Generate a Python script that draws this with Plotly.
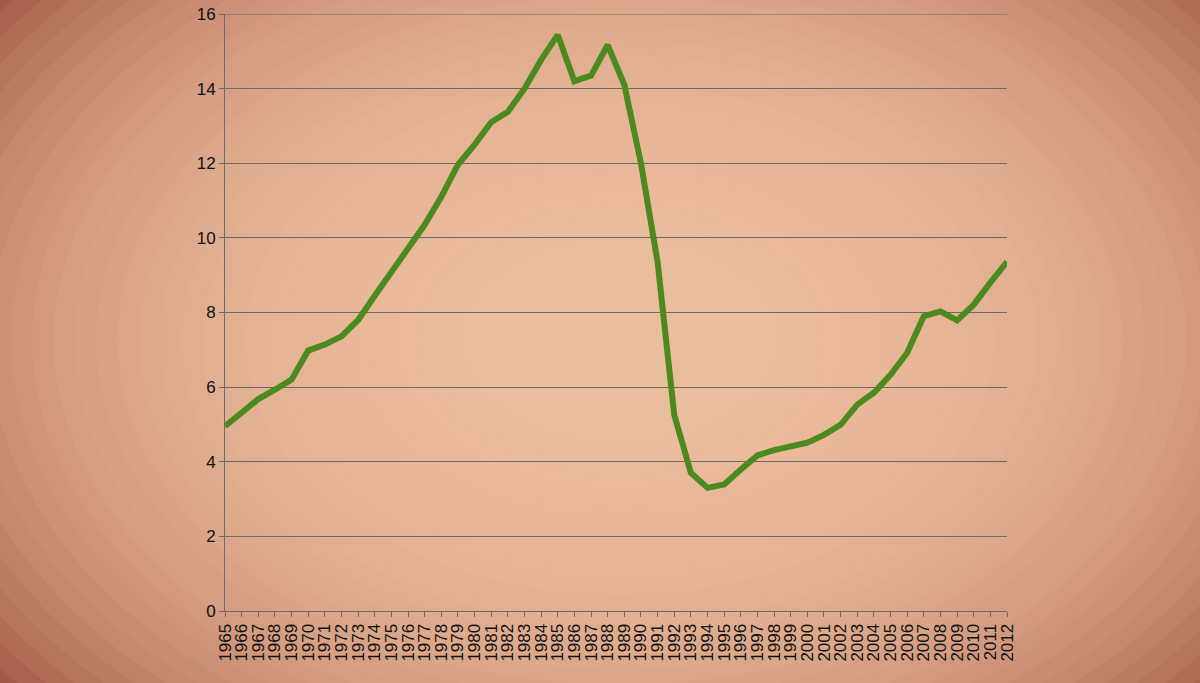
import plotly.graph_objects as go

years = list(range(1965, 2013))
values = [4.95, 5.32, 5.68, 5.93, 6.2, 6.98, 7.14, 7.36, 7.8, 8.45,
          9.07, 9.72, 10.35, 11.1, 11.96, 12.5, 13.1, 13.38, 14.0, 14.77,
          15.44, 14.2, 14.35, 15.17, 14.1, 12.0, 9.35, 5.26, 3.7, 3.3,
          3.39, 3.79, 4.17, 4.31, 4.41, 4.51, 4.72, 4.99, 5.53, 5.85,
          6.33, 6.92, 7.9, 8.03, 7.79, 8.21, 8.8, 9.36]
y_ticks = [0, 2, 4, 6, 8, 10, 12, 14, 16]

W, H = 1200, 683
L, R, T, B = 225, 1007, 14, 611

def px(x):
    return (x - L) / (R - L)

def py(y):
    return (B - y) / (B - T)

fig = go.Figure()
fig.add_trace(go.Scatter(
    x=years, y=values, mode="lines",
    line=dict(color="#4c8a1d", width=6),
    cliponaxis=False, hoverinfo="skip", showlegend=False))

# vignette background built from layered ellipses
shapes = []
cx, cy = 620, 340
n = 30
for i in range(n):
    f = 1 - i / n
    rx = 140 + 640 * f
    ry = 90 + 450 * f
    shapes.append(dict(type="circle", xref="paper", yref="paper", layer="below",
                       x0=px(cx - rx), x1=px(cx + rx), y0=py(cy + ry), y1=py(cy - ry),
                       fillcolor="#f9cba8", opacity=0.09, line=dict(width=0)))
# top gridline at 16
shapes.append(dict(type="line", xref="paper", yref="y", x0=0, x1=1, y0=16, y1=16,
                   layer="below", line=dict(color="#6f6864", width=1)))

fig.update_layout(
    width=W, height=H,
    margin=dict(l=L, r=W - R, t=T, b=H - B, autoexpand=False),
    paper_bgcolor="#a45947",
    plot_bgcolor="rgba(0,0,0,0)",
    shapes=shapes,
    font=dict(family="Liberation Sans, Arial, sans-serif", color="#111111", size=17),
    xaxis=dict(
        range=[1965, 2012], tickmode="array", tickvals=years,
        ticktext=[str(y) for y in years], tickangle=-90, automargin=False,
        showgrid=False, zeroline=False, showline=True, linecolor="#6f6864", linewidth=1,
        ticks="outside", ticklen=5, tickcolor="#6f6864",
        tickfont=dict(size=17, color="#111111")),
    yaxis=dict(
        range=[0, 16], tickmode="array", tickvals=y_ticks, automargin=False,
        showgrid=True, gridcolor="#6f6864", gridwidth=1, zeroline=False,
        showline=True, linecolor="#6f6864", linewidth=1,
        ticks="outside", ticklen=5, tickcolor="#6f6864",
        tickfont=dict(size=17, color="#111111")),
)

fig.write_html("out.html", config={"displayModeBar": False},
               post_script="document.body.style.margin='0';document.body.style.overflow='hidden';")
